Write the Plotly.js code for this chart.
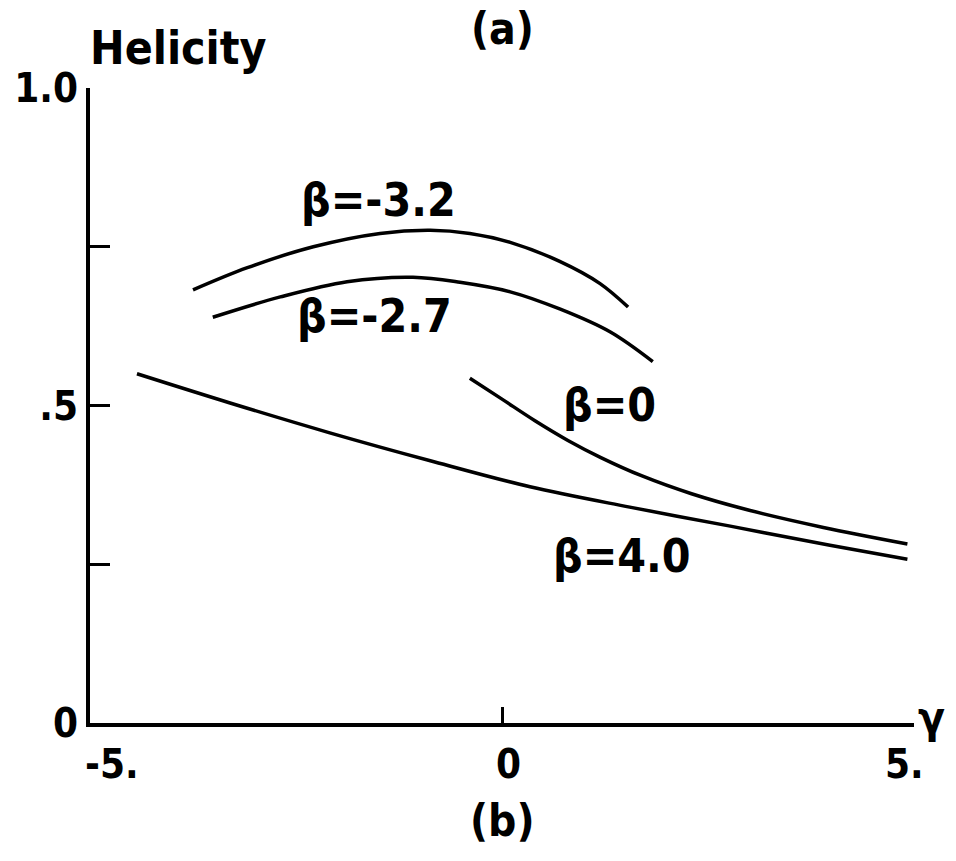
<!DOCTYPE html>
<html>
<head>
<meta charset="utf-8">
<script src="https://cdn.plot.ly/plotly-3.0.1.min.js"></script>
<style>
  html, body { margin: 0; padding: 0; background: #fff; }
  #chart { width: 956px; height: 861px; }
</style>
</head>
<body>
<div id="chart"></div>
<script>
// Helicity versus gamma for four values of beta
const gammaB32 = [-3.75, -3.09, -2.29, -1.48, -0.87, -0.39, 0.10, 0.70, 1.19, 1.53];
const helB32   = [0.682, 0.717, 0.750, 0.771, 0.776, 0.771, 0.757, 0.727, 0.692, 0.655];

const gammaB27 = [-3.51, -2.69, -1.88, -1.08, -0.51, 0.10, 0.70, 1.31, 1.83];
const helB27   = [0.639, 0.671, 0.695, 0.702, 0.694, 0.679, 0.652, 0.616, 0.569];

const gammaB0 = [-0.39, 0.00, 0.40, 0.80, 1.20, 1.70, 2.30, 3.00, 3.90, 4.92];
const helB0   = [0.543, 0.510, 0.476, 0.445, 0.418, 0.389, 0.361, 0.335, 0.308, 0.282];

const gammaB4 = [-4.43, -3.30, -2.09, -0.87, 0.34, 1.55, 2.77, 3.98, 4.92];
const helB4   = [0.550, 0.504, 0.457, 0.413, 0.372, 0.340, 0.310, 0.280, 0.258];

const curveLabels = ['β=-3.2', 'β=-2.7', 'β=0', 'β=4.0'];
const labelGamma  = [-1.50, -1.55, 1.31, 1.46];
const labelHel    = [0.824, 0.641, 0.501, 0.263];

const xTickVals = [-5, 0, 5];
const xTickText = ['-5.', '0', '5.'];
const yTickVals = [0, 0.25, 0.5, 0.75, 1.0];
const yTickText = ['0', '', '.5', '', '1.0'];

const FONT = 'DejaVu Sans Condensed, DejaVu Sans, sans-serif';
const textFont = (size) => ({ family: FONT, size: size, color: '#000', weight: 'bold' });

function curve(x, y) {
  return { x: x, y: y, type: 'scatter', mode: 'lines',
           line: { color: '#000', width: 3.5, shape: 'spline', smoothing: 1 },
           hoverinfo: 'skip', showlegend: false };
}

const traces = [
  curve(gammaB32, helB32),
  curve(gammaB27, helB27),
  curve(gammaB0, helB0),
  curve(gammaB4, helB4)
];

const annotations = curveLabels.map((t, i) => ({
  text: t, x: labelGamma[i], y: labelHel[i], xref: 'x', yref: 'y',
  showarrow: false, font: textFont(46)
}));

// hand-lettered x tick labels sit slightly off their ticks
const xLabelNudge = [22, 6, -10];
xTickVals.forEach((v, i) => annotations.push({
  text: xTickText[i], x: v, y: 0, xref: 'x', yref: 'paper',
  yanchor: 'top', yshift: -16, xshift: xLabelNudge[i],
  showarrow: false, font: textFont(40)
}));

annotations.push(
  { text: '(a)', xref: 'paper', yref: 'paper', x: 0.5, y: 1, yanchor: 'middle', yshift: 60,
    showarrow: false, font: textFont(44) },
  { text: '(b)', xref: 'paper', yref: 'paper', x: 0.5, y: 0, yanchor: 'middle', yshift: -97,
    showarrow: false, font: textFont(44) },
  { text: 'Helicity', xref: 'paper', yref: 'paper', x: 0, y: 1, xanchor: 'left',
    yanchor: 'middle', xshift: -2, yshift: 40,
    showarrow: false, font: textFont(46) },
  { text: 'γ', xref: 'paper', yref: 'paper', x: 1, y: 0, xanchor: 'left',
    yanchor: 'middle', xshift: 2, yshift: 6,
    showarrow: false, font: textFont(44) }
);

const layout = {
  width: 956, height: 861,
  margin: { l: 90, r: 42, t: 88, b: 138 },
  paper_bgcolor: '#fff', plot_bgcolor: '#fff',
  showlegend: false,
  xaxis: {
    range: [-5, 5], showgrid: false, zeroline: false,
    showline: true, linecolor: '#000', linewidth: 4,
    ticks: 'inside', ticklen: 16, tickwidth: 3, tickcolor: '#000',
    tickvals: xTickVals, showticklabels: false
  },
  yaxis: {
    range: [0, 1], showgrid: false, zeroline: false,
    showline: true, linecolor: '#000', linewidth: 4,
    ticks: 'inside', ticklen: 20, tickwidth: 3, tickcolor: '#000',
    tickvals: yTickVals, ticktext: yTickText,
    tickfont: textFont(40)
  },
  annotations: annotations
};

Plotly.newPlot('chart', traces, layout, { staticPlot: true, displayModeBar: false });
</script>
</body>
</html>
